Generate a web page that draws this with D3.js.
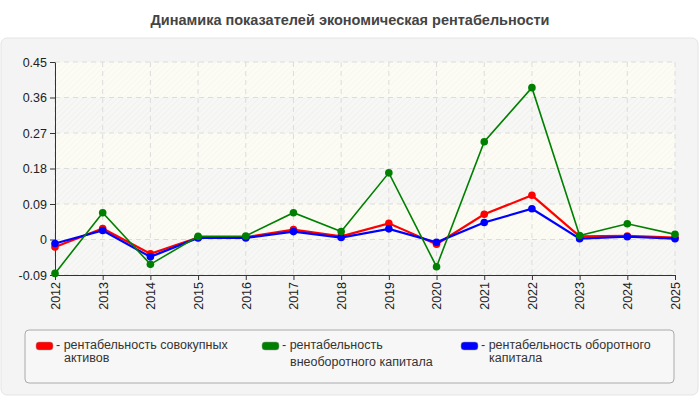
<!DOCTYPE html>
<html>
<head>
<meta charset="utf-8">
<script src="https://cdn.jsdelivr.net/npm/d3@7"></script>
<style>
body { margin: 0; background: #fff; font-family: "Liberation Sans", Arial, sans-serif; }
svg { display: block; }
</style>
</head>
<body>
<svg id="chart"></svg>
<script>
// years on x axis
var years = ["2012","2013","2014","2015","2016","2017","2018","2019","2020","2021","2022","2023","2024","2025"];

// series values
var totalAssets = [-0.019, 0.028, -0.036, 0.005, 0.006, 0.025, 0.008, 0.041, -0.012, 0.064, 0.112, 0.008, 0.009, 0.005];
var fixedCapital = [-0.086, 0.068, -0.063, 0.008, 0.009, 0.068, 0.020, 0.169, -0.069, 0.248, 0.385, 0.010, 0.040, 0.013];
var workingCapital = [-0.010, 0.023, -0.044, 0.004, 0.004, 0.020, 0.005, 0.027, -0.007, 0.043, 0.078, 0.002, 0.007, 0.002];

var yTicks = [-0.09, 0, 0.09, 0.18, 0.27, 0.36, 0.45];
var yTickLabels = ["-0.09", "0", "0.09", "0.18", "0.27", "0.36", "0.45"];

var seriesNames = [
    ["- рентабельность совокупных", "активов"],
    ["- рентабельность", "внеоборотного капитала"],
    ["- рентабельность оборотного", "капитала"]
];
var seriesColors = ["#ff0000", "#008000", "#0000ff"];

var svgWidth = 700, svgHeight = 400;
var plotLeft = 55, plotRight = 675, plotTop = 62, plotBottom = 275;

var svg = d3.select('#chart')
    .attr("width", svgWidth)
    .attr("height", svgHeight);

// hatch patterns for plot bands
var defs = svg.append("defs");
function hatch(id, bg, stroke) {
    var p = defs.append("pattern")
        .attr("id", id)
        .attr("patternUnits", "userSpaceOnUse")
        .attr("width", 4).attr("height", 4)
        .attr("patternTransform", "rotate(45)");
    p.append("rect").attr("width", 4).attr("height", 4).attr("fill", bg);
    p.append("line").attr("x1", 0).attr("y1", 0).attr("x2", 0).attr("y2", 4)
        .attr("stroke", stroke).attr("stroke-width", 1);
}
hatch("hatchA", "#fcfcf4", "#f3f3ea");
hatch("hatchB", "#f7f7f5", "#ebebeb");

// title
svg.append("text")
    .attr("x", svgWidth / 2)
    .attr("y", 25)
    .attr("text-anchor", "middle")
    .attr("font-size", "14.5px")
    .attr("font-weight", "bold")
    .attr("fill", "#444")
    .text("Динамика показателей экономическая рентабельности");

// panel
svg.append("rect")
    .attr("x", 1).attr("y", 38)
    .attr("width", 697).attr("height", 357)
    .attr("rx", 6)
    .attr("fill", "#f4f4f4")
    .attr("stroke", "#e4e4e4");

var xScale = d3.scalePoint()
    .domain(years)
    .range([plotLeft, plotRight]);

var yScale = d3.scaleLinear()
    .domain([-0.09, 0.45])
    .range([plotBottom, plotTop]);

// bands
for (var i = 0; i < yTicks.length - 1; i++) {
    svg.append("rect")
        .attr("x", plotLeft)
        .attr("y", yScale(yTicks[i + 1]))
        .attr("width", plotRight - plotLeft)
        .attr("height", yScale(yTicks[i]) - yScale(yTicks[i + 1]))
        .attr("fill", i % 2 == 0 ? "url(#hatchB)" : "url(#hatchA)");
}

// grid
svg.append("g")
    .selectAll("line")
    .data(yTicks)
    .enter()
    .append("line")
    .attr("x1", plotLeft).attr("x2", plotRight)
    .attr("y1", function (d) { return yScale(d); })
    .attr("y2", function (d) { return yScale(d); })
    .attr("stroke", "#dcdcdc")
    .attr("stroke-dasharray", "5,4");

svg.append("g")
    .selectAll("line")
    .data(years)
    .enter()
    .append("line")
    .attr("x1", function (d) { return xScale(d); })
    .attr("x2", function (d) { return xScale(d); })
    .attr("y1", plotTop).attr("y2", plotBottom)
    .attr("stroke", "#dcdcdc")
    .attr("stroke-dasharray", "5,4");

// axes
var y_axis = d3.axisLeft(yScale)
    .tickValues(yTicks)
    .tickFormat(function (d, i) { return yTickLabels[i]; })
    .tickSize(5)
    .tickSizeOuter(0);

var yg = svg.append("g")
    .attr("transform", "translate(" + plotLeft + ",0)")
    .call(y_axis);
yg.select(".domain").attr("stroke", "#333");
yg.selectAll(".tick line").attr("stroke", "#333");
yg.selectAll("text")
    .attr("font-size", "12.5px")
    .attr("font-family", "Liberation Sans, Arial, sans-serif")
    .attr("fill", "#222")
    .attr("x", -8);

var x_axis = d3.axisBottom(xScale)
    .tickSize(5)
    .tickSizeOuter(0);

var xg = svg.append("g")
    .attr("transform", "translate(0," + plotBottom + ")")
    .call(x_axis);
xg.select(".domain").attr("stroke", "#333");
xg.selectAll(".tick line").attr("stroke", "#333");
xg.selectAll("text")
    .attr("font-size", "12.5px")
    .attr("font-family", "Liberation Sans, Arial, sans-serif")
    .attr("fill", "#222")
    .attr("transform", "rotate(-90)")
    .attr("text-anchor", "end")
    .attr("x", -7)
    .attr("y", 0)
    .attr("dy", "0.35em");

// lines
var allSeries = [totalAssets, workingCapital, fixedCapital];
var allColors = [seriesColors[0], seriesColors[2], seriesColors[1]];
var widths = [2.2, 2.2, 1.6];

var line = d3.line()
    .x(function (d, i) { return xScale(years[i]); })
    .y(function (d) { return yScale(d); });

allSeries.forEach(function (s, k) {
    svg.append("path")
        .datum(s)
        .attr("d", line)
        .attr("fill", "none")
        .attr("stroke", allColors[k])
        .attr("stroke-width", widths[k]);
    svg.append("g")
        .selectAll("circle")
        .data(s)
        .enter()
        .append("circle")
        .attr("cx", function (d, i) { return xScale(years[i]); })
        .attr("cy", function (d) { return yScale(d); })
        .attr("r", 3.8)
        .attr("fill", allColors[k]);
});

// legend
svg.append("rect")
    .attr("x", 25).attr("y", 330)
    .attr("width", 649).attr("height", 53)
    .attr("rx", 4)
    .attr("fill", "#f7f7f7")
    .attr("stroke", "#aaa");

var legendX = [36, 262, 461];
var line2Y = [362, 366, 362];
seriesNames.forEach(function (names, k) {
    svg.append("rect")
        .attr("x", legendX[k]).attr("y", 342)
        .attr("width", 17).attr("height", 8)
        .attr("rx", 3)
        .attr("fill", seriesColors[k])
        .attr("stroke", "#999")
        .attr("stroke-width", 0.5);
    svg.append("text")
        .attr("x", legendX[k] + 20).attr("y", 349)
        .attr("font-size", "12.5px")
        .attr("fill", "#333")
        .text(names[0]);
    svg.append("text")
        .attr("x", legendX[k] + 28).attr("y", line2Y[k])
        .attr("font-size", "12.5px")
        .attr("fill", "#333")
        .text(names[1]);
});
</script>
</body>
</html>
